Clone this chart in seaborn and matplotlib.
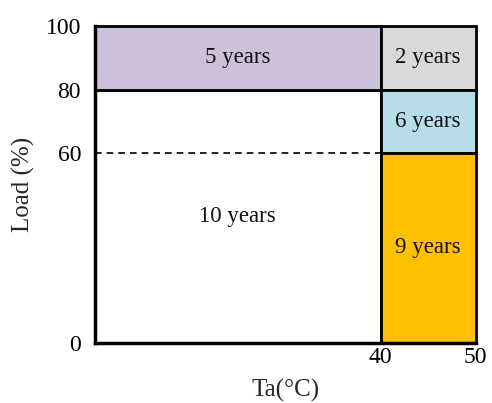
import matplotlib
matplotlib.use("Agg")
import matplotlib.pyplot as plt
import seaborn as sns
import pandas as pd

# regions of the load / ambient temperature map
labels = ["10 years", "5 years", "2 years", "6 years", "9 years"]
ta_low = [10, 10, 40, 40, 40]
ta_high = [40, 40, 50, 50, 50]
load_low = [0, 80, 80, 60, 0]
load_high = [80, 100, 100, 80, 60]
colors = ["#FFFFFF", "#CCC0DA", "#D9D9D9", "#B7DEE8", "#FFC000"]

# dashed 60 % line over the white region
dash_ta = [10, 40]
dash_load = [60, 60]

x_ticks = [40, 50]
y_ticks = [0, 60, 80, 100]

sns.set_theme(style="white")
plt.rcParams["font.family"] = ["Liberation Serif", "DejaVu Serif"]

fig = plt.figure(figsize=(4.92, 4.03), dpi=100)
ax = fig.add_axes([0.193, 0.149, 0.774, 0.786])

df = pd.DataFrame({"label": labels, "x0": ta_low, "x1": ta_high,
                   "y0": load_low, "y1": load_high, "color": colors})

ax.bar(df["x0"], df["y1"] - df["y0"], width=df["x1"] - df["x0"], bottom=df["y0"],
       align="edge", color=df["color"], edgecolor="black", linewidth=2, zorder=2,
       clip_on=False)

sns.lineplot(x=dash_ta, y=dash_load, ax=ax, color="black", linestyle=(0, (4, 3)),
             linewidth=1.2, zorder=3)

for _, r in df.iterrows():
    ax.text((r["x0"] + r["x1"]) / 2, (r["y0"] + r["y1"]) / 2, r["label"],
            ha="center", va="center", fontsize=16.5, color="#111111", zorder=4)

ax.set_xlim(10, 50)
ax.set_ylim(0, 100)
ax.set_xticks(x_ticks)
ax.set_yticks(y_ticks)
ax.tick_params(axis="both", length=0, labelsize=17, colors="black")
ax.tick_params(axis="y", pad=10)
ax.tick_params(axis="x", pad=3)

for s in ["top", "right"]:
    ax.spines[s].set_visible(False)
for s in ["left", "bottom"]:
    ax.spines[s].set_color("black")
    ax.spines[s].set_linewidth(2.5)
    ax.spines[s].set_zorder(5)

ax.set_xlabel("Ta(°C)", fontsize=18, labelpad=8)
ax.set_ylabel("Load (%)", fontsize=18, labelpad=8)

fig.savefig("out.png", dpi=100)
